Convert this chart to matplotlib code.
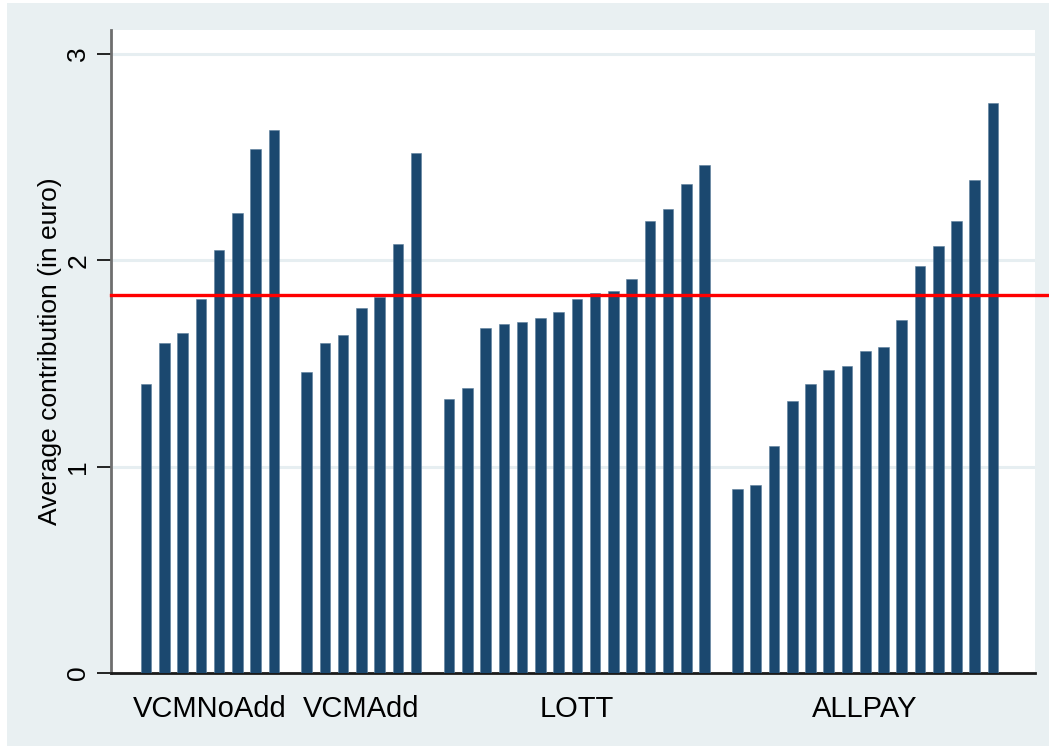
import matplotlib
matplotlib.use("Agg")
import matplotlib.pyplot as plt
import numpy as np

plt.rcParams['font.family'] = ['Liberation Sans', 'DejaVu Sans']

# average contribution per group, sorted within each treatment
groups = ['VCMNoAdd', 'VCMAdd', 'LOTT', 'ALLPAY']
vcm_noadd = [1.40, 1.60, 1.65, 1.81, 2.05, 2.23, 2.54, 2.63]
vcm_add = [1.46, 1.60, 1.64, 1.77, 1.82, 2.08, 2.52]
lott = [1.33, 1.38, 1.67, 1.69, 1.70, 1.72, 1.75, 1.81, 1.84, 1.85, 1.91,
        2.19, 2.25, 2.37, 2.46]
allpay = [0.89, 0.91, 1.10, 1.32, 1.40, 1.47, 1.49, 1.56, 1.58, 1.71, 1.97,
          2.07, 2.19, 2.39, 2.76]
overall_mean = 1.83

W, H = 1049, 746
fig = plt.figure(figsize=(W / 100, H / 100), dpi=100, facecolor='white')

# light background panel
bg = plt.Rectangle((7 / W, 0), 1 - 7 / W, (H - 3) / H, transform=fig.transFigure,
                   facecolor='#e9f0f2', edgecolor='none', zorder=-10)
fig.add_artist(bg)

ax = fig.add_axes([111 / W, (H - 673) / H, (1035 - 111) / W, (673 - 30) / H])
ax.set_facecolor('white')

navy = '#1b486f'
gap = 1.8
start = 0.0
centers = []
for vals in [vcm_noadd, vcm_add, lott, allpay]:
    x = start + np.arange(len(vals))
    ax.bar(x, vals, width=0.58, color=navy, edgecolor='#5d7f9c', linewidth=0.4, zorder=3)
    centers.append(x.mean())
    start = x[-1] + gap

ax.set_xlim(-1.92, 48.7)
ax.set_ylim(0, 3.116)

ax.axhline(overall_mean, xmin=0, xmax=1.013, color='#ff0000', lw=2.4,
           zorder=4, clip_on=False)

ax.set_yticks([0, 1, 2, 3])
ax.set_yticklabels(['0', '1', '2', '3'], rotation=90, va='center', fontsize=19)
ax.tick_params(axis='y', length=10, width=1.2, pad=5, color='black')
ax.grid(axis='y', color='#e6eef1', lw=2.2, zorder=1)
ax.set_axisbelow(True)

ax.set_xticks(centers)
ax.set_xticklabels(groups, fontsize=21)
ax.tick_params(axis='x', length=0, pad=16)

ax.set_ylabel('Average contribution (in euro)', fontsize=19)
ax.yaxis.set_label_coords((50 - 111) / 924, 0.5)
ax.yaxis.label.set_va('center')

for s in ['top', 'right']:
    ax.spines[s].set_visible(False)
ax.spines['left'].set_color('#6e6e6e')
ax.spines['left'].set_linewidth(2)
ax.spines['bottom'].set_color('#1a1a1a')
ax.spines['bottom'].set_linewidth(2)

fig.savefig('out.png', dpi=100, facecolor='white')
